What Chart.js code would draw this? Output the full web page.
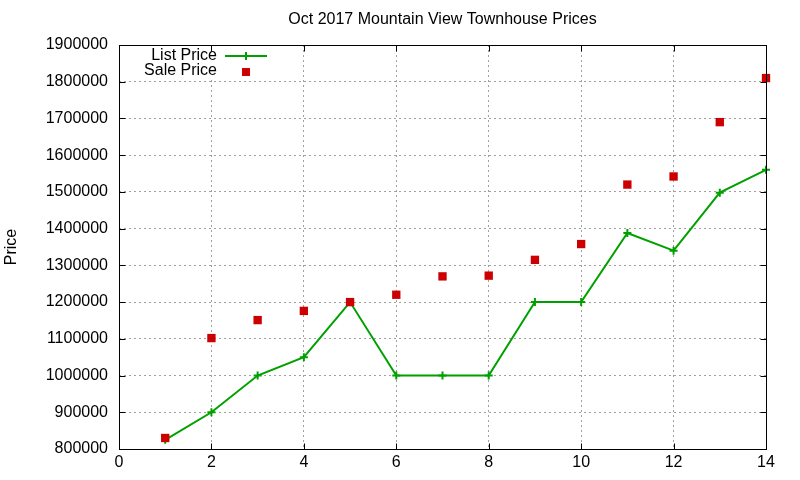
<!DOCTYPE html>
<html>
<head>
<meta charset="utf-8">
<script src="https://cdn.jsdelivr.net/npm/chart.js@4/dist/chart.umd.min.js"></script>
<style>
  html, body { margin: 0; padding: 0; background: #fff; }
  #wrap { width: 800px; height: 480px; }
</style>
</head>
<body>
<div id="wrap"><canvas id="c" width="800" height="480"></canvas></div>
<script>
// ── data ──
const months = [1, 2, 3, 4, 5, 6, 7, 8, 9, 10, 11, 12, 13, 14];
const listPrice = [825000, 900000, 1000000, 1050000, 1200000, 1000000, 1000000, 1000000,
                   1200000, 1200000, 1388000, 1340000, 1498000, 1560000];
const salePrice = [830000, 1102000, 1151000, 1176000, 1200000, 1220000, 1270000, 1272000,
                   1315000, 1358000, 1520000, 1542000, 1690000, 1810000];
const xTicks = [0, 2, 4, 6, 8, 10, 12, 14];
const yTicks = [800000, 900000, 1000000, 1100000, 1200000, 1300000, 1400000, 1500000,
                1600000, 1700000, 1800000, 1900000];

const GREEN = '#00a000';
const RED = '#cc0000';
const FONT = '"Liberation Sans", Arial, sans-serif';

Chart.defaults.font.family = FONT;
Chart.defaults.font.size = 16;
Chart.defaults.color = '#000';

// gnuplot-like frame: white key box, full border, inward mirrored ticks
const frame = {
  id: 'frame',
  afterDraw(c) {
    const ctx = c.ctx, a = c.chartArea;
    const xs = c.scales.x, ys = c.scales.y;
    ctx.save();

    // key
    ctx.fillStyle = '#fff';
    ctx.fillRect(140, 46, 136, 33);
    ctx.fillStyle = '#000';
    ctx.font = '16px ' + FONT;
    ctx.textAlign = 'right';
    ctx.textBaseline = 'middle';
    ctx.fillText('List Price', 217, 56);
    ctx.fillText('Sale Price', 217, 71);
    ctx.strokeStyle = GREEN;
    ctx.lineWidth = 2;
    ctx.beginPath();
    ctx.moveTo(225, 56); ctx.lineTo(267, 56);
    ctx.moveTo(246, 52); ctx.lineTo(246, 60);
    ctx.stroke();
    ctx.fillStyle = RED;
    ctx.fillRect(242, 68, 8, 8);

    // border
    const L = Math.round(a.left) + 0.5, R = Math.round(a.right) + 0.5;
    const T = Math.round(a.top) + 0.5, B = Math.round(a.bottom) + 0.5;
    ctx.strokeStyle = '#000';
    ctx.lineWidth = 1;
    ctx.strokeRect(L, T, R - L, B - T);

    // ticks
    ctx.beginPath();
    xTicks.forEach(v => {
      const px = Math.round(xs.getPixelForValue(v)) + 0.5;
      ctx.moveTo(px, B); ctx.lineTo(px, B - 6);
      ctx.moveTo(px, T); ctx.lineTo(px, T + 6);
    });
    yTicks.forEach(v => {
      const py = Math.round(ys.getPixelForValue(v)) + 0.5;
      ctx.moveTo(L, py); ctx.lineTo(L + 6, py);
      ctx.moveTo(R, py); ctx.lineTo(R - 6, py);
    });
    ctx.stroke();
    ctx.restore();
  }
};

new Chart(document.getElementById('c').getContext('2d'), {
  type: 'line',
  data: {
    datasets: [
      { label: 'List Price', data: months.map((m, i) => ({x: m, y: listPrice[i]})),
        borderColor: GREEN, backgroundColor: GREEN, borderWidth: 2,
        pointStyle: 'cross', pointRadius: 4, pointBorderWidth: 2, pointBorderColor: GREEN,
        tension: 0, clip: false, order: 2 },
      { label: 'Sale Price', data: months.map((m, i) => ({x: m, y: salePrice[i]})),
        showLine: false, pointStyle: 'rect', pointRadius: 5.9, pointBorderWidth: 0,
        pointBackgroundColor: RED, borderColor: RED, backgroundColor: RED,
        clip: false, order: 1 },
    ]
  },
  options: {
    responsive: false,
    animation: false,
    layout: { padding: { left: 0, right: 34, top: 0, bottom: 0 } },
    scales: {
      x: {
        type: 'linear', min: 0, max: 14,
        afterFit: s => { s.height = 31; },
        afterBuildTicks: s => { s.ticks = xTicks.map(v => ({value: v})); },
        ticks: { padding: 4, maxRotation: 0, callback: v => String(v) },
        grid: { color: '#a0a0a0', lineWidth: 1, drawTicks: false },
        border: { display: false, dash: [2, 3] },
      },
      y: {
        type: 'linear', min: 800000, max: 1900000,
        afterFit: s => { s.width = 119; },
        afterBuildTicks: s => { s.ticks = yTicks.map(v => ({value: v})); },
        ticks: { padding: 11, callback: v => String(v) },
        grid: { color: '#a0a0a0', lineWidth: 1, drawTicks: false },
        border: { display: false, dash: [2, 3] },
        title: { display: true, text: 'Price', padding: { top: 2.4, bottom: 0 } },
      },
    },
    plugins: {
      legend: { display: false },
      tooltip: { enabled: false },
      title: { display: true, text: 'Oct 2017 Mountain View Townhouse Prices', fullSize: false,
        font: { size: 16, weight: 'normal' }, color: '#000', padding: { top: 10.4, bottom: 15.4 } },
    },
  },
  plugins: [frame]
});
</script>
</body>
</html>
